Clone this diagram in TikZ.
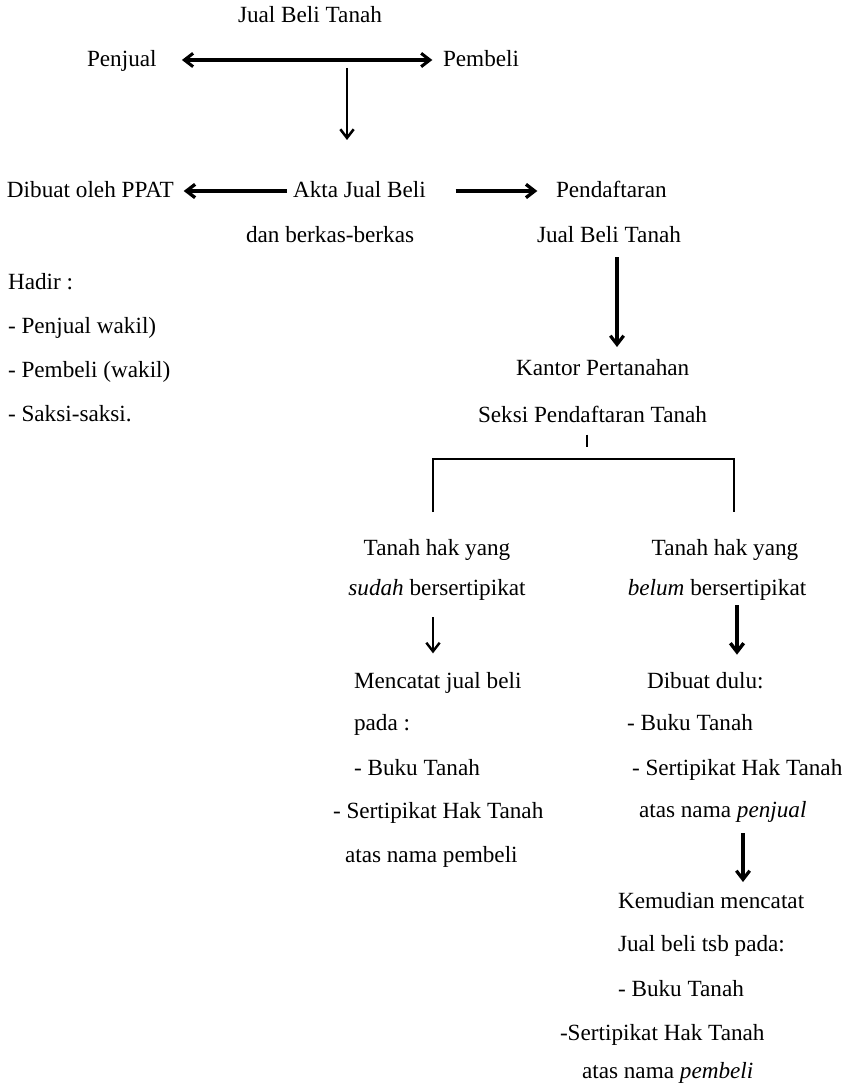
\documentclass[tikz,border=0pt]{standalone}
\usepackage{fontspec}
\setmainfont{Liberation Serif}
\usetikzlibrary{arrows.meta}
\tikzset{
  lbl/.style={inner sep=0pt, outer sep=0pt, text height=12pt, text depth=1.5pt,
              font=\fontsize{17.4pt}{20pt}\selectfont},
  lft/.style={lbl, anchor=base west},
  ctr/.style={lbl, anchor=base},
  >={Straight Barb[length=6.5pt,width=10pt,line join=miter]},
  flow/.style={line width=2.2pt, ->},
  thinflow/.style={line width=1.8pt, ->},
  twoway/.style={line width=2.3pt, <->},
  rule/.style={line width=1.5pt}
}
\begin{document}
\begin{tikzpicture}[x=0.75pt,y=-0.75pt]
\useasboundingbox (0,0) rectangle (854,1084);

% --- parties of the sale
\node[ctr] (title)   at (310,23)  {Jual Beli Tanah};
\node[lft] (penjual) at (87,67)   {Penjual};
\node[lft] (pembeli) at (443,67)  {Pembeli};

% --- deed row
\node[lft] (ppat)    at (7,198)   {Dibuat oleh PPAT};
\node[lft] (akta)    at (293,198) {Akta Jual Beli};
\node[lft] (daftar)  at (556,198) {Pendaftaran};
\node[lft] (berkas)  at (246,243) {dan berkas-berkas};
\node[lft] (daftar2) at (537,243) {Jual Beli Tanah};

% --- who attends
\node[lft] (hadir)   at (8,289)   {Hadir :};
\node[lft] (hadir1)  at (8,333)   {- Penjual wakil)};
\node[lft] (hadir2)  at (8,377)   {- Pembeli (wakil)};
\node[lft] (hadir3)  at (8,421)   {- Saksi-saksi.};

% --- land office
\node[lft] (kantor)  at (516,375) {Kantor Pertanahan};
\node[lft] (seksi)   at (478,422) {Seksi Pendaftaran Tanah};

% --- two kinds of land
\node[ctr] (sudah1)  at (437,555) {Tanah hak yang};
\node[ctr] (sudah2)  at (437,595) {\textit{sudah} bersertipikat};
\node[ctr] (belum1)  at (725,555) {Tanah hak yang};
\node[ctr] (belum2)  at (717,595) {\textit{belum} bersertipikat};

% --- certified land
\node[lft] (catat1)  at (354,688) {Mencatat jual beli};
\node[lft] (catat2)  at (354,730) {pada :};
\node[lft] (catat3)  at (354,775) {- Buku Tanah};
\node[lft] (catat4)  at (333,818) {- Sertipikat Hak Tanah};
\node[lft] (catat5)  at (345,862) {atas nama pembeli};

% --- uncertified land
\node[lft] (dulu1)   at (647,688) {Dibuat dulu:};
\node[lft] (dulu2)   at (627,730) {- Buku Tanah};
\node[lft] (dulu3)   at (632,775) {- Sertipikat Hak Tanah};
\node[lft] (dulu4)   at (639,817) {atas nama \textit{penjual}};
\node[lft] (lanjut1) at (618,908) {Kemudian mencatat};
\node[lft] (lanjut2) at (618,951) {Jual beli tsb pada:};
\node[lft] (lanjut3) at (618,996) {- Buku Tanah};
\node[lft] (lanjut4) at (560,1040){-Sertipikat Hak Tanah};
\node[lft] (lanjut5) at (582,1078){atas nama \textit{pembeli}};

% --- helper points for the vertical connectors
\coordinate (split) at (347,68);
\coordinate (colA)  at (617,0);
\coordinate (fork)  at (587,447);
\coordinate (colL)  at (433,0);
\coordinate (colR)  at (737,0);
\coordinate (colR2) at (743,0);
\coordinate (bl)    at (433,512);
\coordinate (br)    at (734,512);

% --- connectors
\draw[twoway, shorten <=19pt, shorten >=8pt] (penjual.east) -- (pembeli.west);
\draw[flow, line width=1.9pt, shorten >=31.5pt] (split) -- (split |- akta.north);
\draw[flow, line width=2.5pt, shorten <=4.5pt, shorten >=7.5pt] (akta.west) -- (ppat.east);
\draw[flow, line width=2.5pt, shorten <=22.5pt, shorten >=14pt] (akta.east) -- (daftar.west);
\draw[flow, line width=2.4pt, shorten <=9pt, shorten >=9pt] (daftar2.south -| colA) -- (kantor.north -| colA);
\draw[rule, shorten <=8pt] (seksi.south -| fork) -- (fork);
\draw[rule] (bl) -- ++(0,-53) -| (br);
\draw[thinflow, shorten <=15pt, shorten >=14pt] (sudah2.south -| colL) -- (catat1.north -| colL);
\draw[flow, line width=2.6pt, shorten <=6pt, shorten >=13pt] (belum2.south -| colR) -- (dulu1.north -| colR);
\draw[flow, line width=2.4pt, shorten <=10.5pt, shorten >=7.5pt] (dulu4.south -| colR2) -- (lanjut1.north -| colR2);
\end{tikzpicture}
\end{document}
